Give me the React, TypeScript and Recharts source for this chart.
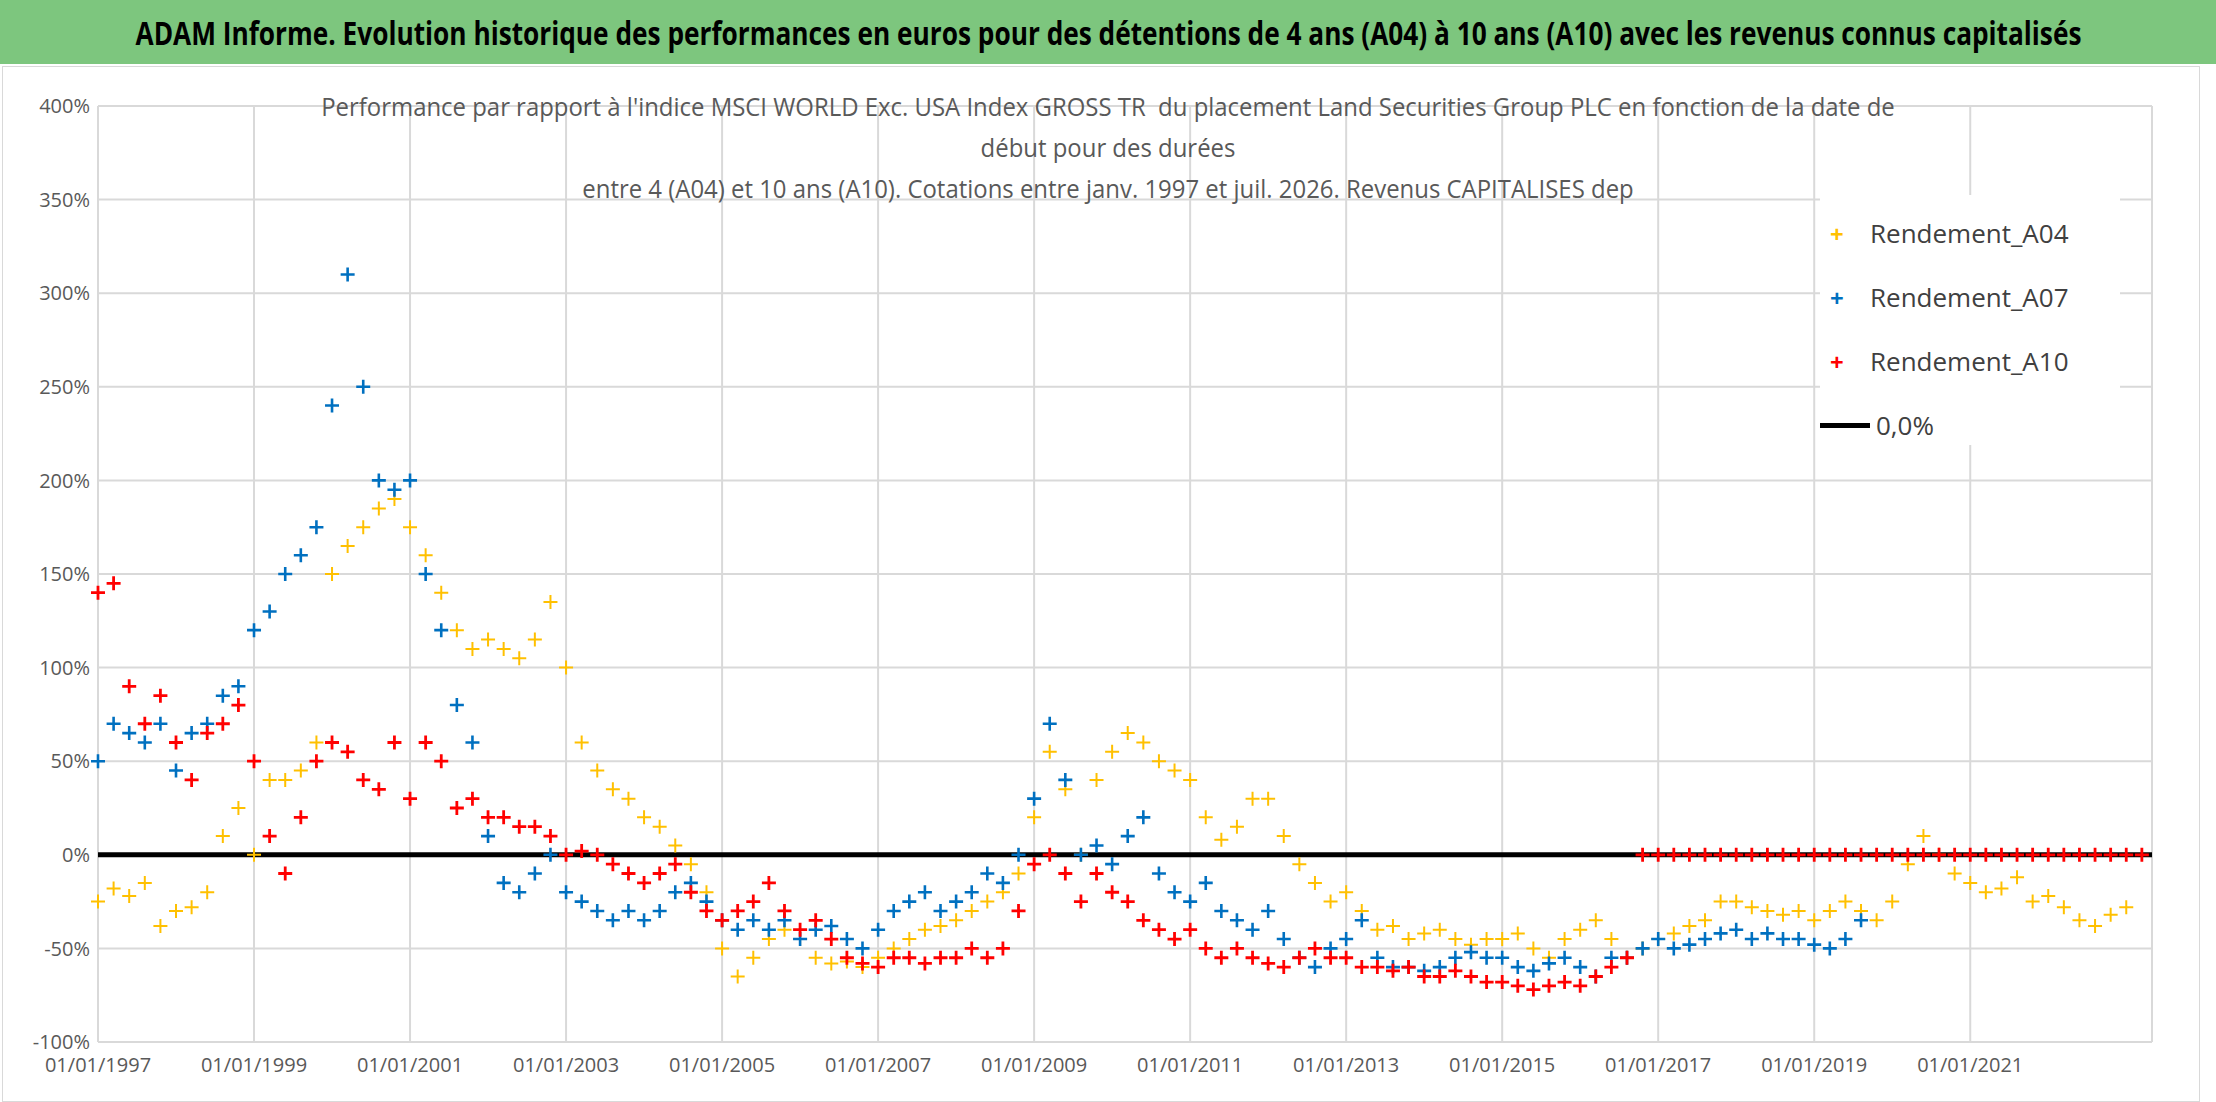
import React from "react";
import { ScatterChart, Scatter, XAxis, YAxis, CartesianGrid, ReferenceLine } from "recharts";

// decimal years, one value every 0.2 year
const START_YEAR = 1997;
const STEP = 0.2;

const A04 = [
  -25, -18, -22, -15, -38, -30, -28, -20, 10, 25, 0, 40, 40, 45, 60, 150, 165, 175, 185, 190,
  175, 160, 140, 120, 110, 115, 110, 105, 115, 135, 100, 60, 45, 35, 30, 20, 15, 5, -5, -20,
  -50, -65, -55, -45, -40, -45, -55, -58, -57, -60, -55, -50, -45, -40, -38, -35, -30, -25, -20, -10,
  20, 55, 35, 0, 40, 55, 65, 60, 50, 45, 40, 20, 8, 15, 30, 30, 10, -5, -15, -25,
  -20, -30, -40, -38, -45, -42, -40, -45, -48, -45, -45, -42, -50, -55, -45, -40, -35, -45, -55, -50,
  -45, -42, -38, -35, -25, -25, -28, -30, -32, -30, -35, -30, -25, -30, -35, -25, -5, 10, 0, -10,
  -15, -20, -18, -12, -25, -22, -28, -35, -38, -32, -28,
];

const A07 = [
  50, 70, 65, 60, 70, 45, 65, 70, 85, 90, 120, 130, 150, 160, 175, 240, 310, 250, 200, 195,
  200, 150, 120, 80, 60, 10, -15, -20, -10, 0, -20, -25, -30, -35, -30, -35, -30, -20, -15, -25,
  -35, -40, -35, -40, -35, -45, -40, -38, -45, -50, -40, -30, -25, -20, -30, -25, -20, -10, -15, 0,
  30, 70, 40, 0, 5, -5, 10, 20, -10, -20, -25, -15, -30, -35, -40, -30, -45, -55, -60, -50,
  -45, -35, -55, -60, -60, -62, -60, -55, -52, -55, -55, -60, -62, -58, -55, -60, -65, -55, -55, -50,
  -45, -50, -48, -45, -42, -40, -45, -42, -45, -45, -48, -50, -45, -35,
];

const A10 = [
  140, 145, 90, 70, 85, 60, 40, 65, 70, 80, 50, 10, -10, 20, 50, 60, 55, 40, 35, 60,
  30, 60, 50, 25, 30, 20, 20, 15, 15, 10, 0, 2, 0, -5, -10, -15, -10, -5, -20, -30,
  -35, -30, -25, -15, -30, -40, -35, -45, -55, -58, -60, -55, -55, -58, -55, -55, -50, -55, -50, -30,
  -5, 0, -10, -25, -10, -20, -25, -35, -40, -45, -40, -50, -55, -50, -55, -58, -60, -55, -50, -55,
  -55, -60, -60, -62, -60, -65, -65, -62, -65, -68, -68, -70, -72, -70, -68, -70, -65, -60, -55,
  0, 0, 0, 0, 0, 0, 0, 0, 0, 0, 0, 0, 0, 0, 0, 0, 0, 0, 0, 0, 0, 0, 0, 0, 0, 0, 0, 0, 0, 0, 0, 0, 0,
];

const X_TICKS = [1997, 1999, 2001, 2003, 2005, 2007, 2009, 2011, 2013, 2015, 2017, 2019, 2021];
const Y_TICKS = [-100, -50, 0, 50, 100, 150, 200, 250, 300, 350, 400];

const toPoints = (vals: number[]) => vals.map((v, i) => ({ x: START_YEAR + i * STEP, y: v }));

const plus = (color: string, w: number) => (p: any) => {
  const { cx, cy } = p;
  if (cx == null || cy == null) return <g />;
  const s = 7;
  return (
    <path d={`M${cx - s},${cy}H${cx + s}M${cx},${cy - s}V${cy + s}`} stroke={color} strokeWidth={w} fill="none" />
  );
};

const FONT = "'Open Sans', 'Noto Sans', Arial, sans-serif";
const tick = { fill: "#595959", fontSize: 20, fontFamily: FONT };

export default function App() {
  return (
    <div style={{ position: "absolute", left: 0, top: 0, width: 2216, height: 1102, background: "#fff", fontFamily: FONT, overflow: "hidden" }}>
      <div style={{ height: 64, background: "#7DC67E", color: "#000", fontWeight: "bold", fontSize: 32, display: "flex", alignItems: "center", justifyContent: "center", whiteSpace: "nowrap" }}>
        <span style={{ display: "inline-block", transform: "scaleX(0.82)" }}>
          ADAM Informe. Evolution historique des performances en euros pour des détentions de 4 ans (A04) à 10 ans (A10) avec les revenus connus capitalisés
        </span>
      </div>
      <div style={{ position: "absolute", left: 2, top: 66, width: 2196, height: 1034, border: "1px solid #d9d9d9" }} />
      <div style={{ position: "absolute", top: 64, left: 0 }}>
        <ScatterChart width={2216} height={1038} margin={{ top: 42, right: 64, bottom: 0, left: 0 }}>
          <CartesianGrid stroke="#d9d9d9" strokeWidth={2} />
          <XAxis type="number" dataKey="x" domain={[1997, 2023.33]} ticks={X_TICKS} tickFormatter={(v) => `01/01/${v}`} tick={{ ...tick, dy: 8 }} axisLine={false} tickLine={false} height={60} />
          <YAxis type="number" dataKey="y" domain={[-100, 400]} ticks={Y_TICKS} tickFormatter={(v) => `${v}%`} tick={tick} axisLine={false} tickLine={false} width={98} />
          <ReferenceLine y={0} stroke="#000" strokeWidth={5} />
          <Scatter data={toPoints(A04)} shape={plus("#FFC000", 2)} isAnimationActive={false} />
          <Scatter data={toPoints(A07)} shape={plus("#0070C0", 2.6)} isAnimationActive={false} />
          <Scatter data={toPoints(A10)} shape={plus("#FF0000", 2.8)} isAnimationActive={false} />
        </ScatterChart>
      </div>
      <div style={{ position: "absolute", left: 108, top: 86, width: 2000, textAlign: "center", color: "#595959", fontSize: 26, lineHeight: "41px", whiteSpace: "nowrap" }}>
        <div style={{ transform: "scaleX(0.92)" }}>Performance par rapport à l'indice MSCI WORLD Exc. USA Index GROSS TR&nbsp; du placement Land Securities Group PLC en fonction de la date de</div>
        <div style={{ transform: "scaleX(0.92)" }}>début pour des durées</div>
        <div style={{ transform: "scaleX(0.92)" }}>entre 4 (A04) et 10 ans (A10). Cotations entre janv. 1997 et juil. 2026. Revenus CAPITALISES dep</div>
      </div>
      <div style={{ position: "absolute", left: 1820, top: 195, width: 300, height: 250, background: "#fff", color: "#404040", fontSize: 26 }}>
        {[
          ["#FFC000", "Rendement_A04"],
          ["#0070C0", "Rendement_A07"],
          ["#FF0000", "Rendement_A10"],
        ].map(([c, t], i) => (
          <div key={t} style={{ position: "absolute", top: 20 + i * 64, left: 10, display: "flex", alignItems: "center" }}>
            <span style={{ color: c, fontSize: 24, width: 40, fontWeight: "bold" }}>+</span>
            <span>{t}</span>
          </div>
        ))}
        <div style={{ position: "absolute", top: 212, left: 0, display: "flex", alignItems: "center" }}>
          <span style={{ display: "inline-block", width: 50, height: 5, background: "#000", marginRight: 6 }} />
          <span>0,0%</span>
        </div>
      </div>
    </div>
  );
}
